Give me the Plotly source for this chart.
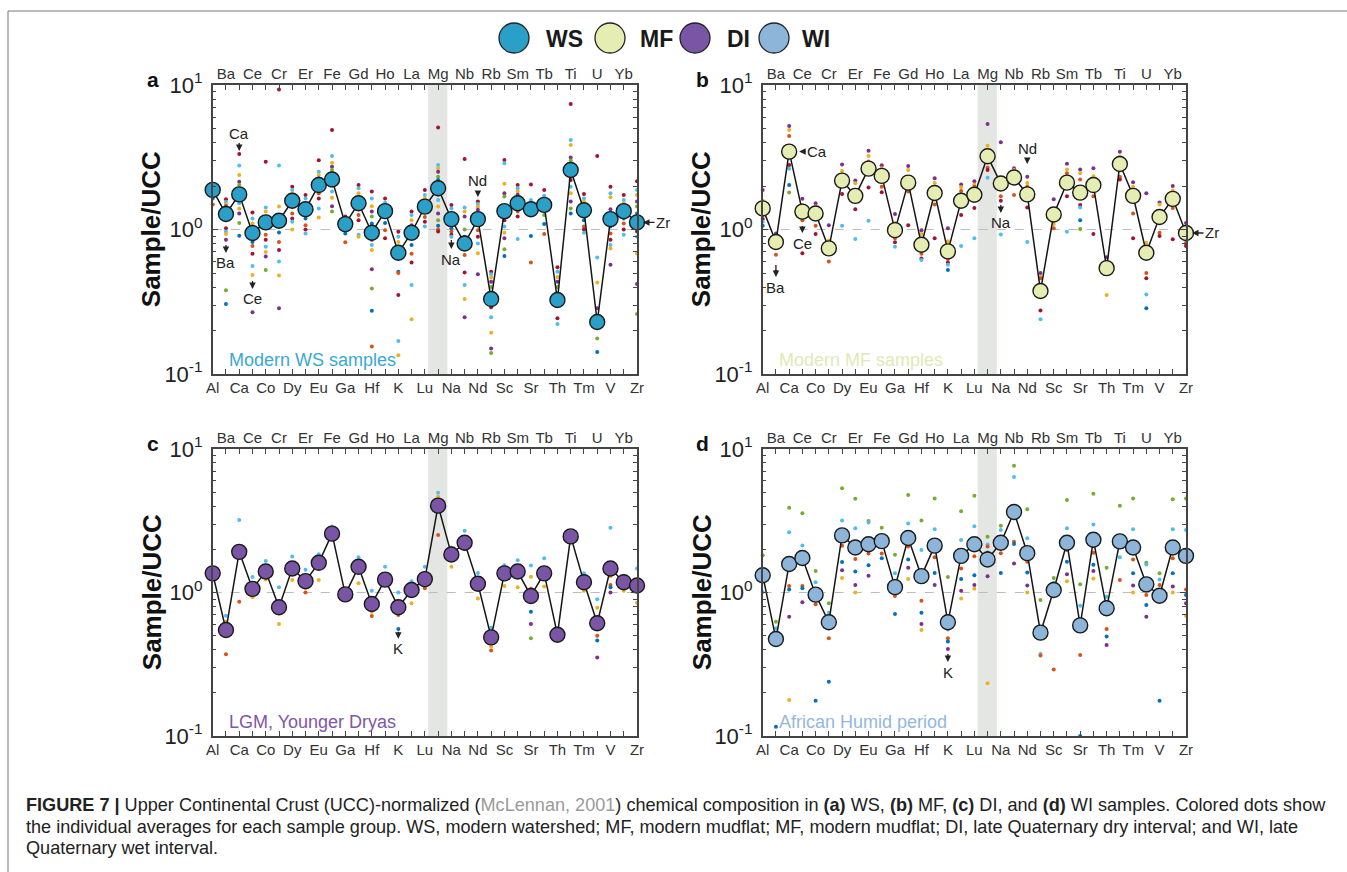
import math
import plotly.graph_objects as go

W, H = 1347, 872
FONT = "Liberation Sans"

elements = ["Al", "Ba", "Ca", "Ce", "Co", "Cr", "Dy", "Er", "Eu", "Fe", "Ga", "Gd", "Hf", "Ho", "K",
            "La", "Lu", "Mg", "Na", "Nb", "Nd", "Rb", "Sc", "Sm", "Sr", "Tb", "Th", "Ti", "Tm", "U",
            "V", "Yb", "Zr"]
ytick_vals = [0.1, 1, 10]
ytick_text = ["10<sup>-1</sup>", "10<sup>0</sup>", "10<sup>1</sup>"]

# ---- group means (Sample/UCC) ----
ws_mean = [1.88, 1.28, 1.75, 0.946, 1.12, 1.15, 1.58, 1.38, 2.03, 2.22, 1.09, 1.52, 0.95, 1.34, 0.69,
           0.95, 1.44, 1.93, 1.18, 0.80, 1.18, 0.33, 1.34, 1.52, 1.38, 1.48, 0.325, 2.58, 1.36, 0.229,
           1.18, 1.34, 1.12]
mf_mean = [1.40, 0.82, 3.46, 1.33, 1.29, 0.74, 2.18, 1.71, 2.64, 2.35, 0.99, 2.11, 0.785, 1.79, 0.706,
           1.58, 1.74, 3.21, 2.08, 2.29, 1.75, 0.375, 1.27, 2.11, 1.80, 2.03, 0.54, 2.84, 1.71, 0.69,
           1.22, 1.63, 0.946]
di_mean = [1.36, 0.548, 1.92, 1.06, 1.40, 0.789, 1.47, 1.20, 1.61, 2.57, 0.97, 1.51, 0.832, 1.23, 0.789,
           1.04, 1.24, 4.03, 1.84, 2.22, 1.15, 0.487, 1.36, 1.40, 0.946, 1.36, 0.508, 2.46, 1.18, 0.61,
           1.47, 1.18, 1.12]
wi_mean = [1.32, 0.474, 1.58, 1.74, 0.966, 0.62, 2.50, 2.06, 2.17, 2.28, 1.09, 2.40, 1.30, 2.12, 0.62,
           1.80, 2.17, 1.70, 2.22, 3.64, 1.88, 0.525, 1.04, 2.22, 0.59, 2.33, 0.776, 2.27, 2.06, 1.14,
           0.95, 2.06, 1.80]

# ---- individual sample averages (one list per element) ----
ws_dots = [
    [2.0, 1.95, 1.9, 1.85, 1.8, 1.64, 1.49],
    [1.62, 1.55, 1.5, 1.45, 1.39, 1.33, 1.27, 1.02, 0.97, 0.93, 0.85, 0.38, 0.305],
    [3.33, 2.77, 2.38, 2.14, 2.03, 1.88, 1.78, 1.64, 1.52, 1.4, 1.29, 1.11, 0.906],
    [1.31, 1.19, 1.1, 1.02, 0.89, 0.82, 0.77, 0.68, 0.56, 0.485, 0.267],
    [2.94, 1.42, 1.33, 1.23, 1.13, 1.02, 0.92, 0.85, 0.76, 0.7, 0.65, 0.525],
    [9.3, 2.77, 1.44, 1.24, 1.13, 0.955, 0.82, 0.72, 0.6, 0.48, 0.285],
    [1.98, 1.88, 1.78, 1.69, 1.6, 1.44, 1.29, 1.19, 1.13, 1.0],
    [1.73, 1.64, 1.52, 1.44, 1.29, 1.19, 1.07, 1.0, 0.94],
    [3.02, 2.51, 2.38, 2.26, 2.1, 1.88, 1.78, 1.64, 1.4, 1.21],
    [4.88, 3.23, 2.9, 2.72, 2.58, 2.45, 2.3, 2.1, 1.83, 1.66, 1.45, 1.33],
    [1.23, 1.16, 1.12, 1.07, 1.0, 0.94, 0.815],
    [2.03, 1.93, 1.78, 1.66, 1.55, 1.4, 1.26, 1.16, 0.92, 0.89],
    [1.83, 1.64, 1.45, 1.33, 1.23, 1.1, 0.95, 0.85, 0.78, 0.72, 0.53, 0.39, 0.274, 0.155],
    [1.64, 1.53, 1.4, 1.33, 1.23, 1.11, 0.99, 0.87],
    [0.966, 0.89, 0.82, 0.76, 0.68, 0.51, 0.5, 0.352, 0.169, 0.135],
    [1.33, 1.26, 1.16, 1.07, 0.94, 0.78, 0.68, 0.59, 0.413, 0.239],
    [1.88, 1.73, 1.64, 1.56, 1.44, 1.33, 1.22, 1.13, 1.05],
    [5.09, 2.79, 2.65, 2.51, 2.32, 2.2, 1.95, 1.75, 1.6, 1.44, 1.29, 1.16, 1.06, 1.0, 0.97],
    [1.48, 1.4, 1.29, 1.2, 1.1, 1.02, 0.97, 0.92, 0.89],
    [3.07, 1.42, 1.33, 1.23, 1.0, 0.89, 0.666, 0.503, 0.413, 0.33, 0.247],
    [1.56, 1.5, 1.44, 1.37, 1.29, 1.1, 0.99, 0.89, 0.8, 0.684, 0.49],
    [0.51, 0.49, 0.465, 0.435, 0.4, 0.36, 0.305, 0.29, 0.247, 0.193, 0.15, 0.14],
    [3.03, 2.87, 2.07, 1.78, 1.69, 1.44, 1.29, 1.16, 1.05, 0.95, 0.87, 0.73, 0.655],
    [2.03, 1.93, 1.84, 1.74, 1.6, 1.44, 1.33, 1.23, 0.86],
    [2.05, 1.6, 1.44, 1.33, 1.26, 0.9, 0.59],
    [1.88, 1.71, 1.6, 1.44, 1.26, 1.09, 0.93],
    [0.547, 0.51, 0.47, 0.435, 0.4, 0.36, 0.33, 0.243, 0.222],
    [7.39, 4.16, 3.84, 3.15, 3.0, 2.79, 2.45, 2.2, 1.98, 1.78, 1.56, 1.4, 1.29],
    [1.76, 1.64, 1.56, 1.44, 1.29, 1.16, 1.05, 1.0, 0.95],
    [3.23, 0.64, 0.43, 0.285, 0.176, 0.142],
    [1.98, 1.78, 1.67, 1.38, 1.16, 1.05, 0.94, 0.85, 0.78, 0.74, 0.57],
    [1.73, 1.6, 1.52, 1.44, 1.29, 1.19, 1.1, 1.0, 0.92],
    [2.16, 1.88, 1.73, 1.56, 1.44, 1.29, 1.1, 0.97, 0.89, 0.684, 0.42, 0.26],
]
mf_dots = [
    [1.88, 1.58, 1.25, 1.18, 1.13, 1.06],
    [0.94, 0.89, 0.67, 0.51],
    [5.2, 4.88, 4.43, 2.79, 2.63, 2.03, 1.8],
    [1.63, 1.48, 1.16, 0.684],
    [1.52, 1.44, 1.06, 0.93],
    [1.07, 0.84, 0.6],
    [2.82, 2.54, 2.2, 1.76, 1.06],
    [2.18, 2.09, 1.88, 1.38, 0.86],
    [3.51, 3.22, 2.95, 1.95, 1.15],
    [2.78, 2.65, 1.98, 1.81],
    [1.28, 1.11, 0.87, 0.815, 0.76],
    [2.75, 2.58, 1.83, 1.07],
    [0.99, 0.93, 0.68, 0.63, 0.615],
    [2.26, 2.1, 1.49, 0.87],
    [1.02, 0.83, 0.625, 0.59, 0.57, 0.525],
    [2.05, 1.96, 1.85, 1.26, 0.77],
    [2.16, 2.05, 1.98, 1.41, 0.87],
    [5.37, 3.8, 2.68, 2.58, 2.28],
    [4.01, 2.28, 1.7, 1.58, 0.925],
    [2.65, 2.58, 1.73],
    [2.32, 2.1, 1.98, 1.42, 0.82],
    [0.5, 0.47, 0.46, 0.275, 0.239],
    [1.62, 1.09, 1.02],
    [2.85, 2.6, 2.45, 1.7, 0.966],
    [2.6, 2.45, 2.22, 1.48, 1.42, 1.16, 1.01],
    [2.65, 2.34, 1.7, 0.93],
    [0.642, 0.352],
    [3.45, 3.2, 2.32, 2.22],
    [2.12, 1.98, 1.29, 0.87],
    [1.78, 0.81, 0.5, 0.46, 0.355, 0.285],
    [1.54, 1.49, 0.95, 0.9],
    [2.0, 1.86, 1.41, 0.855],
    [1.11, 0.82, 0.8, 0.77],
]
di_dots = [
    [1.4, 1.32],
    [0.69, 0.626, 0.371],
    [3.2, 1.76, 0.863],
    [1.28, 0.925],
    [1.66, 1.23],
    [1.09, 0.603],
    [1.78, 1.22],
    [1.44, 1.07, 1.0],
    [1.85, 1.22],
    [2.88],
    [],
    [1.76, 1.16],
    [1.03, 0.735, 0.685],
    [1.51, 1.13],
    [1.0, 0.877, 0.697, 0.557],
    [1.2, 0.84],
    [1.51, 1.1, 1.07],
    [4.96, 4.65, 2.52],
    [2.06, 1.51],
    [2.69, 2.0],
    [1.37, 0.91],
    [0.569, 0.42, 0.394],
    [1.55, 1.11],
    [1.68, 1.09],
    [1.54, 1.29, 1.06, 0.735, 0.603, 0.479],
    [1.73, 1.1],
    [],
    [],
    [1.36, 1.03],
    [0.896, 0.784, 0.5, 0.462, 0.353],
    [2.83, 1.3, 1.13, 1.09, 1.0],
    [1.31, 1.03],
    [1.47, 0.849],
]
wi_dots = [
    [1.82, 1.01],
    [0.626, 0.563, 0.431, 0.116],
    [3.9, 2.63, 1.11, 1.05, 0.678, 0.178],
    [3.56, 2.13, 1.11, 1.07, 0.854],
    [1.41, 1.18, 0.827, 0.176],
    [0.84, 0.723, 0.48, 0.239],
    [5.32, 3.18, 2.12, 1.63, 1.43, 1.26],
    [4.5, 2.8, 1.71, 1.4, 1.13, 1.0],
    [3.15, 3.07, 1.87, 1.55, 1.31],
    [2.83, 2.1, 1.87, 1.73],
    [1.83, 1.36, 0.945, 0.708],
    [4.78, 3.03, 2.09, 1.7, 1.49, 1.24],
    [3.17, 1.98, 0.877, 0.723, 0.603, 0.548],
    [4.52, 2.76, 1.76, 1.37, 1.13],
    [1.28, 0.553, 0.48, 0.455, 0.404],
    [3.69, 2.32, 1.47, 1.24, 1.03, 0.91],
    [4.73, 2.89, 1.79, 1.32, 1.13, 1.06],
    [2.45, 2.16, 2.09, 1.9, 1.3, 0.233],
    [2.92, 2.73, 1.88, 1.37],
    [7.65, 6.38, 2.26, 2.18, 1.59],
    [3.8, 2.39, 1.64, 1.38, 1.12, 1.0],
    [0.887, 0.373, 0.364],
    [1.26, 1.17, 0.291],
    [4.41, 2.8, 1.98, 1.64, 1.34, 1.2],
    [1.14, 0.81, 0.367, 0.1],
    [4.88, 2.98, 1.89, 1.56, 1.41, 1.25],
    [1.49, 0.935, 0.557, 0.493, 0.43],
    [4.03, 1.76, 1.22],
    [4.52, 2.76, 1.7, 1.36, 1.12, 1.0],
    [1.61, 1.57, 0.96, 0.818, 0.678],
    [1.36, 1.23, 1.13, 0.176],
    [4.46, 2.76, 1.73, 1.36, 1.1, 1.0],
    [4.52, 2.73, 1.05, 0.96, 0.84, 0.69],
]

# ---- styling ----
BLUE, ORRED, ORANGE, PURPLE, GREEN, LBLUE, DRED = ("#0072BD", "#D95319", "#EDB120", "#7E2F8E",
                                                   "#77AC30", "#4DBEEE", "#A2142F")
group_colors = {"WS": "#2A9FC8", "MF": "#E6EDB2", "DI": "#7A55A5", "WI": "#8DB4D9"}
label_colors = {"WS": "#3AA8D4", "MF": "#E1E9B5", "DI": "#7E57A8", "WI": "#93B8DD"}

panels = [
    dict(key="WS", mean=ws_mean, dots=ws_dots, letter="a", text="Modern WS samples",
         xdom=[212.7 / W, 637 / W], ydom=[1 - 374 / H, 1 - 85 / H],
         pal=[DRED, LBLUE, ORANGE, PURPLE, GREEN, BLUE, ORRED]),
    dict(key="MF", mean=mf_mean, dots=mf_dots, letter="b", text="Modern MF samples",
         xdom=[762.7 / W, 1186 / W], ydom=[1 - 374 / H, 1 - 85 / H],
         pal=[PURPLE, ORANGE, ORRED, DRED, LBLUE, BLUE, GREEN]),
    dict(key="DI", mean=di_mean, dots=di_dots, letter="c", text="LGM, Younger Dryas",
         xdom=[212.7 / W, 637 / W], ydom=[1 - 736 / H, 1 - 449 / H],
         pal=[LBLUE, ORANGE, ORRED, BLUE, PURPLE, GREEN]),
    dict(key="WI", mean=wi_mean, dots=wi_dots, letter="d", text="African Humid period",
         xdom=[762.7 / W, 1186 / W], ydom=[1 - 736 / H, 1 - 449 / H],
         pal=[GREEN, LBLUE, ORRED, BLUE, PURPLE, ORANGE]),
]

fig = go.Figure()
layout = dict(template="none", width=W, height=H, autosize=False,
              margin=dict(l=0, r=0, t=0, b=0, pad=0, autoexpand=False),
              paper_bgcolor="white", plot_bgcolor="rgba(0,0,0,0)", showlegend=False,
              font=dict(family=FONT, color="#222"))
shapes, annotations = [], []
idx = list(range(len(elements)))

for k, p in enumerate(panels):
    xb, xt, yy = 2 * k + 1, 2 * k + 2, k + 1
    xb_id = "x" if xb == 1 else f"x{xb}"
    xt_id = f"x{xt}"
    y_id = "y" if yy == 1 else f"y{yy}"
    xb_name = "xaxis" if xb == 1 else f"xaxis{xb}"
    xt_name = f"xaxis{xt}"
    y_name = "yaxis" if yy == 1 else f"yaxis{yy}"

    layout[xb_name] = dict(domain=p["xdom"], anchor=y_id, range=[0, len(elements) - 1], automargin=False,
                           tickmode="array", tickvals=idx[0::2], ticktext=elements[0::2],
                           minor=dict(ticks="inside", ticklen=5, tickwidth=1.2, tickcolor="#444",
                                      tickvals=idx[1::2]),
                           ticks="inside", ticklen=5, tickwidth=1.2, tickcolor="#444",
                           showline=True, linecolor="#444", linewidth=1.5, mirror="ticks",
                           showgrid=False, zeroline=False, ticklabelstandoff=-1,
                           tickfont=dict(family=FONT, size=15, color="#333"))
    layout[xt_name] = dict(overlaying=xb_id, anchor=y_id, side="top", range=[0, len(elements) - 1],
                           automargin=False,
                           tickmode="array", tickvals=idx[1::2], ticktext=elements[1::2],
                           ticks="", showline=False, showgrid=False, zeroline=False,
                           ticklabelstandoff=2,
                           tickfont=dict(family=FONT, size=15, color="#333"))
    layout[y_name] = dict(domain=p["ydom"], anchor=xb_id, type="log", range=[-1, 1], automargin=False,
                          tickmode="array", tickvals=ytick_vals, ticktext=ytick_text,
                          ticks="inside", ticklen=6, tickwidth=1.2, tickcolor="#444",
                          showline=True, linecolor="#444", linewidth=1.5, mirror="ticks",
                          showgrid=False, zeroline=False, ticklabelstandoff=4,
                          minor=dict(ticks="inside", ticklen=4, tickcolor="#444", tickwidth=1,
                                     tickvals=[0.2, 0.3, 0.4, 0.5, 0.6, 0.7, 0.8, 0.9,
                                               2, 3, 4, 5, 6, 7, 8, 9]),
                          tickfont=dict(family=FONT, size=22, color="#222"))

    # invisible anchor trace so the top label axis is drawn
    fig.add_trace(go.Scatter(x=[0, len(elements) - 1], y=[1, 1], mode="markers", xaxis=xt_id, yaxis=y_id,
                             marker=dict(size=1, opacity=0), hoverinfo="skip"))
    # Mg band
    mg = elements.index("Mg")
    shapes.append(dict(type="rect", xref=xb_id, yref=f"{y_id} domain", x0=mg - 0.75, x1=mg + 0.7,
                       y0=0, y1=1, fillcolor="#E4E6E4", line=dict(width=0), layer="below"))
    # reference line at 1
    fig.add_trace(go.Scatter(x=[0, len(elements) - 1], y=[1, 1], mode="lines", xaxis=xb_id, yaxis=y_id,
                             line=dict(color="#BDBDBD", width=1.2, dash="dash"), hoverinfo="skip"))
    # individual dots
    dx, dy, dc = [], [], []
    for i, vals in enumerate(p["dots"]):
        for r, v in enumerate(sorted(vals, reverse=True)):
            dx.append(i)
            dy.append(v)
            dc.append(p["pal"][r % len(p["pal"])])
    fig.add_trace(go.Scatter(x=dx, y=dy, mode="markers", xaxis=xb_id, yaxis=y_id, cliponaxis=False,
                             marker=dict(size=4, color=dc, line=dict(width=0))))
    # group mean line + markers
    fig.add_trace(go.Scatter(x=idx, y=p["mean"], mode="lines+markers", xaxis=xb_id, yaxis=y_id,
                             cliponaxis=False, line=dict(color="#151515", width=1.5),
                             marker=dict(size=15, color=group_colors[p["key"]],
                                         line=dict(color="#1a1a1a", width=1.4))))

    x0p, x1p = p["xdom"]
    y0p, y1p = p["ydom"]
    annotations.append(dict(xref="paper", yref="paper", x=x0p - 60 / W, y=y1p + 5 / H,
                            text=f"<b>{p['letter']}</b>", showarrow=False, xanchor="center",
                            yanchor="middle", font=dict(family=FONT, size=21, color="#111")))
    annotations.append(dict(xref="paper", yref="paper", x=x0p - 61 / W, y=(y0p + y1p) / 2,
                            text="<b>Sample/UCC</b>", textangle=-90, showarrow=False,
                            xanchor="center", yanchor="middle",
                            font=dict(family=FONT, size=26, color="#111")))
    annotations.append(dict(xref="paper", yref="paper", x=x0p + 14 / W, y=y0p + 14 / H,
                            text=p["text"], showarrow=False, xanchor="left", yanchor="middle",
                            font=dict(family=FONT, size=18, color=label_colors[p["key"]])))
    p["xb_id"], p["y_id"] = xb_id, y_id


def note(p, el, logy, ax, ay, head_at_text=False, standoff=0):
    """Element label with a short arrow (head at the point, or at the label side)."""
    annotations.append(dict(xref=p["xb_id"], yref=p["y_id"], x=elements.index(el), y=logy,
                            text=el, showarrow=True, ax=ax, ay=ay, arrowhead=2, arrowsize=1,
                            arrowwidth=1.3, arrowcolor="#222", standoff=standoff,
                            startarrowhead=2, startarrowsize=1,
                            arrowside="start" if head_at_text else "end",
                            font=dict(family=FONT, size=15, color="#222")))


pa, pb, pc, pd = panels
L = math.log10
note(pa, "Ca", 0.543, 0, -18)
note(pa, "Ba", -0.107, 0, 18, head_at_text=True)
note(pa, "Ce", -0.356, 0, 18, head_at_text=True)
note(pa, "Na", -0.073, 0, 19, head_at_text=True)
note(pa, "Nd", 0.225, 0, -16)
note(pa, "Zr", L(ws_mean[-1]), 26, 0, standoff=6)
note(pb, "Ca", L(mf_mean[2]), 28, 0, standoff=10)
note(pb, "Ce", 0.024, 0, 17, head_at_text=True)
note(pb, "Ba", -0.246, 0, 22, head_at_text=True)
note(pb, "Na", 0.170, 0, 18, head_at_text=True)
note(pb, "Nd", 0.453, 0, -16)
note(pb, "Zr", L(mf_mean[-1]), 26, 0, standoff=6)
note(pc, "K", -0.273, 0, 17, head_at_text=True)
note(pd, "K", -0.429, 0, 18, head_at_text=True)

# legend row
legend_items = [("WS", 514, 544), ("MF", 610, 638), ("DI", 695, 725), ("WI", 774, 800)]
for key, cx, tx in legend_items:
    r = 15
    shapes.append(dict(type="circle", xref="paper", yref="paper", x0=(cx - r) / W, x1=(cx + r) / W,
                       y0=1 - (38 + r) / H, y1=1 - (38 - r) / H, fillcolor=group_colors[key],
                       line=dict(color="#222", width=1.3)))
    annotations.append(dict(xref="paper", yref="paper", x=tx / W, y=1 - 39 / H, text=f"<b>{key}</b>",
                            showarrow=False, xanchor="left", yanchor="middle",
                            font=dict(family=FONT, size=23, color="#1a1a1a")))

# outer frame
shapes.append(dict(type="rect", xref="paper", yref="paper", x0=8 / W, x1=1.2, y0=-0.2, y1=1 - 11 / H,
                   line=dict(color="#777", width=1), fillcolor="rgba(0,0,0,0)"))

caption = [
    "<b>FIGURE 7 |</b> Upper Continental Crust (UCC)-normalized (<span style='color:#9a9a9a'>McLennan, 2001</span>) "
    "chemical composition in <b>(a)</b> WS, <b>(b)</b> MF, <b>(c)</b> DI, and <b>(d)</b> WI samples. Colored dots show",
    "the individual averages for each sample group. WS, modern watershed; MF, modern mudflat; MF, modern mudflat; "
    "DI, late Quaternary dry interval; and WI, late",
    "Quaternary wet interval.",
]
for i, line in enumerate(caption):
    annotations.append(dict(xref="paper", yref="paper", x=24 / W, y=1 - (805 + 21.5 * i) / H, text=line,
                            showarrow=False, xanchor="left", yanchor="middle",
                            font=dict(family=FONT, size=18.1, color="#222")))

layout["shapes"] = shapes
layout["annotations"] = annotations
fig.update_layout(**layout)
fig.write_html("out.html",
               post_script="document.body.style.margin='0';document.body.style.overflow='hidden';")
